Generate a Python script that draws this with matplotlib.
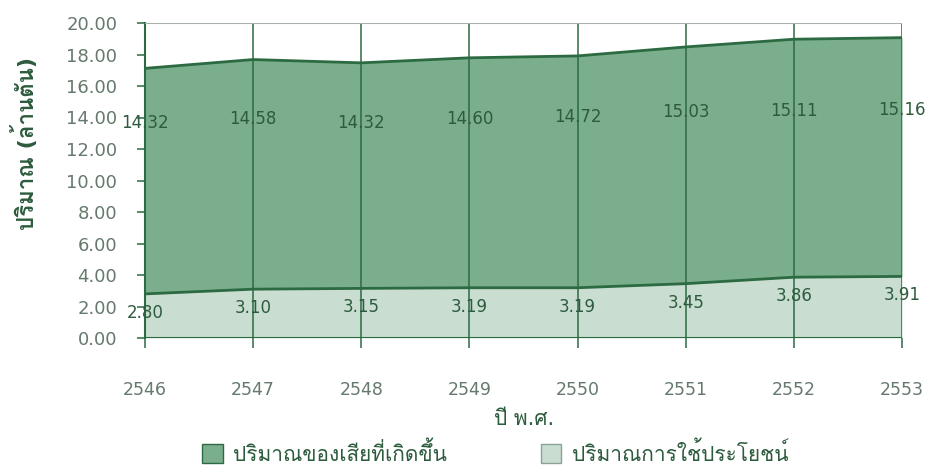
import matplotlib
matplotlib.use('Agg')
import matplotlib.pyplot as plt
from matplotlib import font_manager
from matplotlib.patches import Patch
import numpy as np

years = [2546, 2547, 2548, 2549, 2550, 2551, 2552, 2553]
used = [2.80, 3.10, 3.15, 3.19, 3.19, 3.45, 3.86, 3.91]
waste = [14.32, 14.58, 14.32, 14.60, 14.72, 15.03, 15.11, 15.16]
y_ticks = [0, 2, 4, 6, 8, 10, 12, 14, 16, 18, 20]
legend_labels = ['ปริมาณของเสียที่เกิดขึ้น', 'ปริมาณการใช้ประโยชน์']
y_title = 'ปริมาณ (ล้านตัน)'
x_title = 'ปี พ.ศ.'


def find_thai_font():
    # look for any installed font that has Thai glyphs
    try:
        from fontTools.ttLib import TTFont
    except ImportError:
        return None
    for f in font_manager.fontManager.ttflist:
        try:
            tt = TTFont(f.fname, fontNumber=0, lazy=True)
            cmap = tt.getBestCmap()
            if cmap and ord('ป') in cmap:
                return f.name
        except Exception:
            continue
    return None


thai = find_thai_font()
families = ['DejaVu Sans']
if thai:
    families = ['DejaVu Sans', thai]
plt.rcParams['font.family'] = families

DARK = '#2c6a42'
MID = '#7bae8d'
LIGHT = '#c9ded1'
TICK_TXT = '#65796c'
LABEL_TXT = '#2d5b3d'

fig = plt.figure(figsize=(9.33, 4.75), dpi=100)
ax = fig.add_axes([145 / 933, 1 - 338 / 475, (902 - 145) / 933, (338 - 23) / 475])

x = np.array(years)
low = np.array(used)
top = low + np.array(waste)

ax.fill_between(x, 0, low, color=LIGHT, lw=0)
ax.fill_between(x, low, top, color=MID, lw=0)
ax.plot(x, low, color=DARK, lw=2)
ax.plot(x, top, color=DARK, lw=2)

# vertical lines at each year
for yr in years:
    ax.axvline(yr, color=DARK, lw=1.1, zorder=3)
ax.axhline(20, color='#a8b0aa', lw=1.5, zorder=3)
ax.axhline(0, color=DARK, lw=1.5, zorder=3)

# value labels
for xi, u, w in zip(years, used, waste):
    ax.text(xi, u - 1.2, '%.2f' % u, ha='center', va='center',
            fontsize=12, color=LABEL_TXT, zorder=4)
    ax.text(xi, w - 0.7, '%.2f' % w, ha='center', va='center',
            fontsize=12, color=LABEL_TXT, zorder=4)

ax.set_xlim(years[0], years[-1])
ax.set_ylim(0, 20)
ax.set_xticks(years)
ax.set_xticklabels([str(y) for y in years])
ax.set_yticks(y_ticks)
ax.set_yticklabels(['%.2f' % v for v in y_ticks])
ax.tick_params(axis='x', direction='out', length=7, width=1.1, color=DARK,
               pad=24, labelsize=12.5, labelcolor=TICK_TXT)
ax.tick_params(axis='y', direction='out', length=6, width=1.1, color=DARK,
               pad=14, labelsize=13, labelcolor=TICK_TXT)

for side in ['top', 'right', 'bottom']:
    ax.spines[side].set_visible(False)
ax.spines['left'].set_color(DARK)
ax.spines['left'].set_linewidth(1.5)

fig.text(25 / 933, 1 - 143 / 475, y_title, rotation=90, ha='center', va='center',
         fontsize=16, fontweight='bold', color=LABEL_TXT)
fig.text(524 / 933, 1 - 419 / 475, x_title, ha='center', va='center',
         fontsize=15, color=LABEL_TXT)

handles = [Patch(facecolor=MID, edgecolor=DARK, lw=1),
           Patch(facecolor=LIGHT, edgecolor='#8aa294', lw=1)]
fig.legend(handles, legend_labels, loc='center', bbox_to_anchor=(495 / 933, 1 - 453 / 475),
           ncol=2, frameon=False, fontsize=15, handlelength=1.0, handleheight=1.0,
           handletextpad=0.5, columnspacing=4.5, labelcolor=LABEL_TXT,
           borderpad=0)

fig.savefig('out.png', dpi=100)
